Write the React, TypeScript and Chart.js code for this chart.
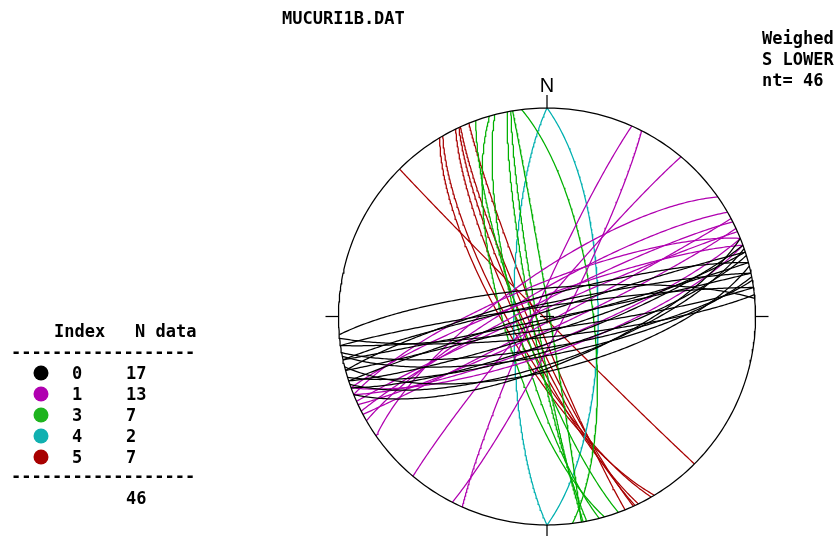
import { useEffect, useRef } from "react";
import { Chart, registerables } from "chart.js";
Chart.register(...registerables);

// ---- data (strike by right-hand rule, dip in degrees) ----
const blackStrike = [265, 255, 258, 252, 78, 75, 82, 70, 73, 79, 71, 76, 68, 84, 262, 72, 80];
const blackDip = [79, 82, 85, 88, 89, 88, 85, 80, 77, 75, 72, 69, 71, 82, 86, 84, 78];

const magentaStrike = [204, 27, 220, 235, 240, 243, 246, 250, 62, 65, 68, 70, 248];
const magentaDip = [85, 84, 86, 74, 80, 84, 87, 82, 88, 85, 80, 76, 77];

const greenStrike = [160, 164, 165.5, 169, 170, 350.5, 353];
const greenDip = [80, 73, 78, 84, 86, 89, 72];

const cyanStrike = [180, 0];
const cyanDip = [77, 70];

const redStrike = [149, 150, 154, 155, 155.5, 158, 135];
const redDip = [74, 76, 79, 81, 83, 86, 89];

const legendIndex = ["0", "1", "3", "4", "5"];
const legendCounts = [17, 13, 7, 2, 7];
const totalCount = 46;
const titleText = "MUCURI1B.DAT";
const infoLines = ["Weighed", "S LOWER", "nt= 46"];

const COLORS = {
  black: "#000000",
  magenta: "#b000b0",
  green: "#00b000",
  cyan: "#00b0b0",
  red: "#a80000",
};
const legendColors = [COLORS.black, COLORS.magenta, "#1eb41e", "#10b0b0", COLORS.red];

// ---- layout ----
const W = 839, H = 536, CX = 547, CY = 316.5, R = 208.5;
const LW = 1.25;

function greatCircle(strike: number, dip: number) {
  const pts: { x: number; y: number }[] = [];
  const s = (strike * Math.PI) / 180;
  const d = (dip * Math.PI) / 180;
  const S = [Math.cos(s), Math.sin(s), 0];
  const D = [
    Math.cos(d) * Math.cos(s + Math.PI / 2),
    Math.cos(d) * Math.sin(s + Math.PI / 2),
    Math.sin(d),
  ];
  for (let r = 0; r <= 180; r += 1) {
    const k = (r * Math.PI) / 180;
    const v = [0, 1, 2].map((i) => Math.cos(k) * S[i] + Math.sin(k) * D[i]);
    const plunge = Math.asin(Math.min(1, Math.max(-1, v[2])));
    const trend = Math.atan2(v[1], v[0]);
    const rho = Math.SQRT2 * Math.sin((Math.PI / 2 - plunge) / 2);
    pts.push({ x: rho * Math.sin(trend), y: rho * Math.cos(trend) });
  }
  return pts;
}

function lineDs(data: any[], color: string, width = LW) {
  return {
    data,
    showLine: true,
    borderColor: color,
    borderWidth: width,
    pointRadius: 0,
    pointHoverRadius: 0,
    fill: false,
    tension: 0,
    clip: false as any,
  };
}

function groupDatasets(strikes: number[], dips: number[], color: string) {
  return strikes.map((s, i) => lineDs(greatCircle(s, dips[i]), color));
}

const textPlugin = {
  id: "stereoText",
  afterDraw(chart: any) {
    const ctx = chart.ctx as CanvasRenderingContext2D;
    ctx.save();
    ctx.fillStyle = "#000";
    ctx.textBaseline = "alphabetic";
    ctx.textAlign = "left";
    ctx.font = "bold 17px 'DejaVu Sans Mono'";
    ctx.fillText(titleText, 282, 24);
    infoLines.forEach((t, i) => ctx.fillText(t, 762, 44 + i * 21));

    // legend
    ctx.fillText("Index", 54, 337);
    ctx.fillText("N data", 135, 337);
    ctx.fillText("------------------", 11, 358);
    legendIndex.forEach((idx, i) => {
      const base = 379 + i * 21;
      ctx.fillStyle = legendColors[i];
      ctx.beginPath();
      ctx.arc(41, base - 6, 7.5, 0, Math.PI * 2);
      ctx.fill();
      ctx.fillStyle = "#000";
      ctx.fillText(idx, 72, base);
      ctx.fillText(String(legendCounts[i]), 126, base);
    });
    ctx.fillText("------------------", 11, 482);
    ctx.fillText(String(totalCount), 126, 504);

    // north label
    ctx.font = "20px 'Liberation Sans'";
    ctx.textAlign = "center";
    ctx.fillText("N", CX, 92);
    ctx.restore();
  },
};

export default function App() {
  const ref = useRef<HTMLCanvasElement | null>(null);
  useEffect(() => {
    if (!ref.current) return;
    const circle: { x: number; y: number }[] = [];
    for (let a = 0; a <= 360; a += 1) {
      const t = (a * Math.PI) / 180;
      circle.push({ x: Math.sin(t), y: Math.cos(t) });
    }
    const tk = 13 / R;
    const c = 7 / R;
    const datasets: any[] = [
      lineDs(circle, "#000"),
      lineDs([{ x: 0, y: 1 }, { x: 0, y: 1 + tk }], "#000"),
      lineDs([{ x: 0, y: -1 }, { x: 0, y: -1 - tk }], "#000"),
      lineDs([{ x: -1, y: 0 }, { x: -1 - tk, y: 0 }], "#000"),
      lineDs([{ x: 1, y: 0 }, { x: 1 + tk, y: 0 }], "#000"),
      lineDs([{ x: -c, y: 0 }, { x: c, y: 0 }], "#000"),
      lineDs([{ x: 0, y: -c }, { x: 0, y: c }], "#000"),
      ...groupDatasets(blackStrike, blackDip, COLORS.black),
      ...groupDatasets(magentaStrike, magentaDip, COLORS.magenta),
      ...groupDatasets(greenStrike, greenDip, COLORS.green),
      ...groupDatasets(cyanStrike, cyanDip, COLORS.cyan),
      ...groupDatasets(redStrike, redDip, COLORS.red),
    ];
    const chart = new Chart(ref.current, {
      type: "scatter",
      data: { datasets },
      options: {
        animation: false,
        responsive: false,
        maintainAspectRatio: false,
        layout: { padding: 0 },
        events: [],
        plugins: { legend: { display: false }, tooltip: { enabled: false }, title: { display: false } },
        scales: {
          x: { type: "linear", display: false, min: -CX / R, max: (W - CX) / R },
          y: { type: "linear", display: false, min: -(H - CY) / R, max: CY / R },
        },
      },
      plugins: [textPlugin],
    });
    return () => chart.destroy();
  }, []);
  return (
    <div style={{ position: "fixed", left: 0, top: 0, width: W, height: H, background: "#fff" }}>
      <canvas ref={ref} width={W} height={H} style={{ width: W, height: H, display: "block" }} />
    </div>
  );
}
